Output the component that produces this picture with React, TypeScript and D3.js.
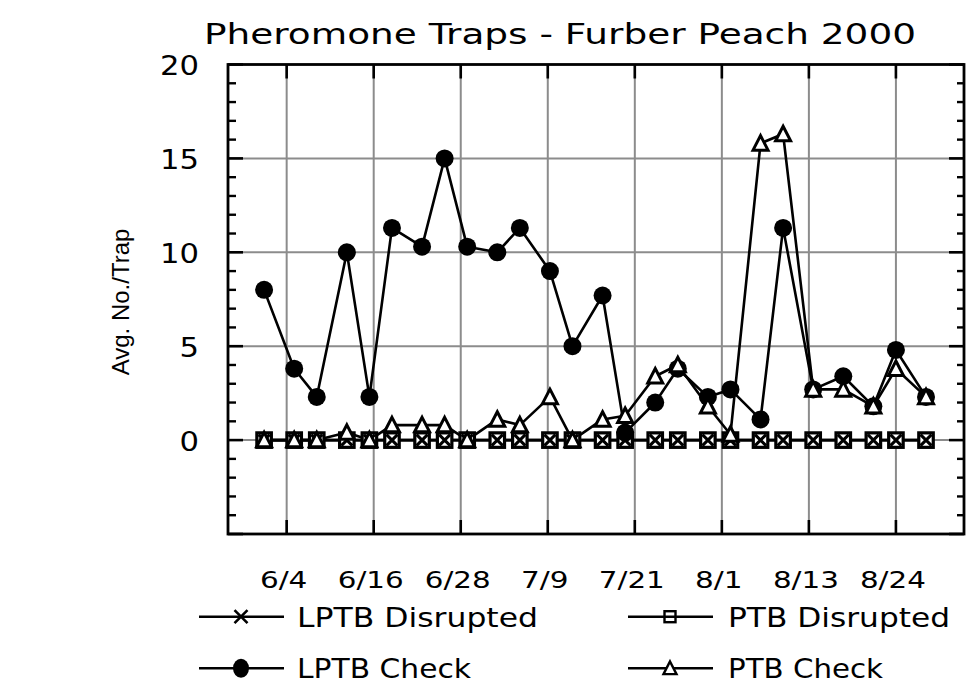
import React from "react";
import * as d3 from "d3";

// Sampling dates (month/day, 2000)
const sampleDates = ["6/1","6/5","6/8","6/12","6/15","6/18","6/22","6/25","6/28","7/2","7/5","7/9","7/12","7/16","7/19","7/23","7/26","7/30","8/2","8/6","8/9","8/13","8/17","8/21","8/24","8/28"];

const lptbDisrupted = [0,0,0,0,0,0,0,0,0,0,0,0,0,0,0,0,0,0,0,0,0,0,0,0,0,0];
const ptbDisrupted  = [0,0,0,0,0,0,0,0,0,0,0,0,0,0,0,0,0,0,0,0,0,0,0,0,0,0];
const lptbCheck = [8,3.8,2.3,10,2.3,11.3,10.3,15,10.3,10,11.3,9,5,7.7,0.4,2,3.8,2.3,2.7,1.1,11.3,2.7,3.4,1.8,4.8,2.3];
const ptbCheck  = [0,0,0,0.4,0,0.8,0.8,0.8,0,1.1,0.8,2.3,0,1.1,1.3,3.4,4.0,1.8,0.3,15.8,16.3,2.7,2.7,1.8,3.8,2.3];

const xTickLabels = ["6/4","6/16","6/28","7/9","7/21","8/1","8/13","8/24"];
const yMajorTicks = [-5,0,5,10,15,20];
const yTickLabels = [0,5,10,15,20];

const legendItems = ["LPTB Disrupted","PTB Disrupted","LPTB Check","PTB Check"];

const W = 966, H = 683;
const L = 228, R = 964, T = 64.5, B = 534;

// day offset from 6/4
const base = new Date(2000, 5, 4).getTime();
const toDay = (s: string) => {
  const [m, d] = s.split("/").map(Number);
  return Math.round((new Date(2000, m - 1, d).getTime() - base) / 86400000);
};
const days = sampleDates.map(toDay);
const firstTick = toDay(xTickLabels[0]);
const lastTick = toDay(xTickLabels[xTickLabels.length - 1]);
const xTicks = xTickLabels.map((_, i) => firstTick + (i * (lastTick - firstTick)) / (xTickLabels.length - 1));

const x = d3.scaleLinear().domain([-7.8, 90.05]).range([L, R]);
const y = d3.scaleLinear().domain([-5, 20]).range([B, T]);

const line = d3.line<number>().x((_, i) => x(days[i])).y((v) => y(v));

const GRID = "#8c8c8c";
const FONT = "'DejaVu Sans', Verdana, sans-serif";

function Square({ cx, cy, s, fill = "#fff", sw = 3.2 }: { cx: number; cy: number; s: number; fill?: string; sw?: number }) {
  return <rect x={cx - s / 2} y={cy - s / 2} width={s} height={s} fill={fill} stroke="#000" strokeWidth={sw} />;
}
function Cross({ cx, cy, s, sw = 3 }: { cx: number; cy: number; s: number; sw?: number }) {
  const h = s / 2;
  return <path d={`M${cx - h},${cy - h}L${cx + h},${cy + h}M${cx - h},${cy + h}L${cx + h},${cy - h}`} stroke="#000" strokeWidth={sw} fill="none" />;
}
function Tri({ cx, cy, s, sw = 3 }: { cx: number; cy: number; s: number; sw?: number }) {
  const h = s * 0.9;
  return <path d={`M${cx},${cy - h / 2 - 1}L${cx + s / 2},${cy + h / 2}L${cx - s / 2},${cy + h / 2}Z`} fill="#fff" stroke="#000" strokeWidth={sw} strokeLinejoin="miter" />;
}

export default function App() {
  const minor = d3.range(-5, 21, 1).filter((v) => v % 5 !== 0);
  const labelLen = (s: string) => s.split("").reduce((a, c) => a + (c === "/" ? 10.5 : 18.5), 0);
  return (
    <svg width={W} height={H} style={{ position: "absolute", left: 0, top: 0 }} xmlns="http://www.w3.org/2000/svg">
      <rect width={W} height={H} fill="#fff" />
      {/* Title */}
      <text x={204} y={44} fontFamily={FONT} fontSize={28} textLength={712} lengthAdjust="spacingAndGlyphs">Pheromone Traps - Furber Peach 2000</text>
      {/* Y title */}
      <g transform="translate(129,302)">
        <text transform="rotate(-90)" textAnchor="middle" fontFamily="'Liberation Sans', Arial, sans-serif" fontSize={24} fill="#000">Avg. No./Trap</text>
      </g>

      {/* grid */}
      {xTicks.map((t, i) => (
        <line key={"gx" + i} x1={x(t)} x2={x(t)} y1={T} y2={B} stroke={GRID} strokeWidth={2} />
      ))}
      {yMajorTicks.filter((v) => v > -5 && v < 20).map((v) => (
        <line key={"gy" + v} x1={L} x2={R} y1={y(v)} y2={y(v)} stroke={GRID} strokeWidth={2} />
      ))}

      {/* ticks */}
      {xTicks.map((t, i) => (
        <g key={"tx" + i}>
          <line x1={x(t)} x2={x(t)} y1={T} y2={T + 14} stroke="#000" strokeWidth={2.6} />
          <line x1={x(t)} x2={x(t)} y1={B} y2={B - 14} stroke="#000" strokeWidth={2.6} />
        </g>
      ))}
      {yMajorTicks.map((v) => (
        <g key={"ty" + v}>
          <line x1={L} x2={L + 15} y1={y(v)} y2={y(v)} stroke="#000" strokeWidth={2.6} />
          <line x1={R} x2={R - 15} y1={y(v)} y2={y(v)} stroke="#000" strokeWidth={2.6} />
        </g>
      ))}
      {minor.map((v) => (
        <g key={"tm" + v}>
          <line x1={L} x2={L + 8} y1={y(v)} y2={y(v)} stroke="#000" strokeWidth={2.4} />
          <line x1={R} x2={R - 7} y1={y(v)} y2={y(v)} stroke="#000" strokeWidth={2.4} />
        </g>
      ))}
      <rect x={L} y={T} width={R - L} height={B - T} fill="none" stroke="#000" strokeWidth={2.8} />

      {/* tick labels */}
      {yTickLabels.map((v) => (
        <text key={"yl" + v} x={199} y={y(v) + 10.5} textAnchor="end" fontFamily={FONT} fontSize={26} textLength={String(v).length * 19.5} lengthAdjust="spacingAndGlyphs">{v}</text>
      ))}
      {xTicks.map((t, i) => (
        <text key={"xl" + i} x={x(t) - 3} y={588} textAnchor="middle" fontFamily={FONT} fontSize={23} textLength={labelLen(xTickLabels[i])} lengthAdjust="spacingAndGlyphs">{xTickLabels[i]}</text>
      ))}

      {/* series lines */}
      <g fill="none" stroke="#000" strokeWidth={2.6} strokeLinejoin="round">
        <path d={line(ptbDisrupted) || ""} />
        <path d={line(lptbDisrupted) || ""} />
        <path d={line(lptbCheck) || ""} />
        <path d={line(ptbCheck) || ""} />
      </g>

      {/* markers */}
      {ptbDisrupted.map((v, i) => <Square key={"sq" + i} cx={x(days[i])} cy={y(v)} s={14.5} />)}
      {lptbDisrupted.map((v, i) => <Cross key={"cr" + i} cx={x(days[i])} cy={y(v)} s={11} />)}
      {lptbCheck.map((v, i) => <circle key={"ci" + i} cx={x(days[i])} cy={y(v)} r={9} fill="#000" />)}
      {ptbCheck.map((v, i) => <Tri key={"tr" + i} cx={x(days[i])} cy={y(v)} s={15} />)}

      {/* legend */}
      {legendItems.map((name, i) => {
        const col = i % 2, row = Math.floor(i / 2);
        const lx = col === 0 ? 199 : 628;
        const ly = row === 0 ? 616.7 : 668.3;
        const mx = lx + 42;
        const tx = col === 0 ? 297 : 728;
        const tl = [241, 222, 174, 155][i];
        return (
          <g key={"lg" + i}>
            <line x1={lx} x2={lx + 85} y1={ly} y2={ly} stroke="#000" strokeWidth={2.6} />
            {name === "LPTB Disrupted" && <Cross cx={mx} cy={ly} s={13} sw={2.6} />}
            {name === "PTB Disrupted" && <Square cx={mx} cy={ly} s={11} fill="none" sw={2.4} />}
            {name === "LPTB Check" && <ellipse cx={mx} cy={ly} rx={8} ry={9.5} fill="#000" />}
            {name === "PTB Check" && <Tri cx={mx} cy={ly} s={13} sw={2.4} />}
            <text x={tx} y={ly + 10} fontFamily={FONT} fontSize={27} textLength={tl} lengthAdjust="spacingAndGlyphs">{name}</text>
          </g>
        );
      })}
    </svg>
  );
}
